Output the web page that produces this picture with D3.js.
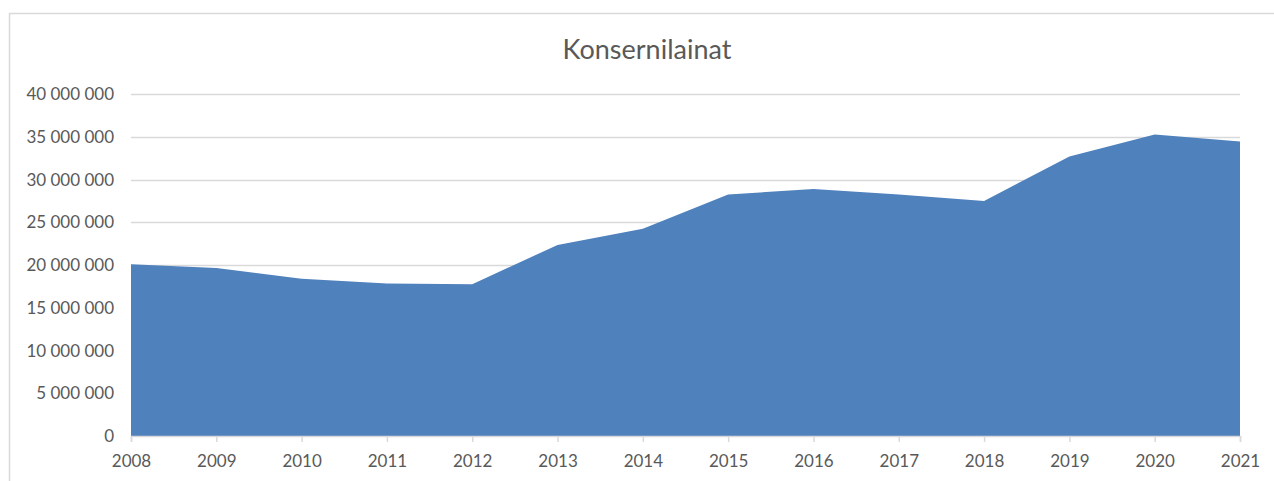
<!DOCTYPE html>
<html>
<head>
<meta charset="utf-8">
<script src="https://cdn.jsdelivr.net/npm/d3@7"></script>
<style>
  body { margin: 0; background: #fff; }
  svg text { font-family: Lato, "Open Sans", sans-serif; fill: #595959; }
</style>
</head>
<body>
<div id="chart"></div>
<script>
var years = [2008, 2009, 2010, 2011, 2012, 2013, 2014, 2015, 2016, 2017, 2018, 2019, 2020, 2021];
var loans = [20100000, 19650000, 18400000, 17850000, 17750000, 22350000, 24250000, 28250000, 28900000, 28250000, 27500000, 32700000, 35250000, 34450000];
var yTicks = [0, 5000000, 10000000, 15000000, 20000000, 25000000, 30000000, 35000000, 40000000];

var width = 1274, height = 481;
var margin = {top: 94, right: 34, bottom: 45, left: 131};

var svg = d3.select("#chart").append("svg")
  .attr("width", width)
  .attr("height", height);

// chart frame
svg.append("rect")
  .attr("x", 9.5).attr("y", 13.5)
  .attr("width", width + 20).attr("height", height + 20)
  .attr("fill", "none")
  .attr("stroke", "#d9d9d9")
  .attr("stroke-width", 1.5);

svg.append("text")
  .attr("x", 647).attr("y", 59)
  .attr("text-anchor", "middle")
  .style("font-size", "27px")
  .text("Konsernilainat");

var x = d3.scaleLinear()
  .domain([2008, 2021])
  .range([margin.left, width - margin.right]);

var y = d3.scaleLinear()
  .domain([0, 40000000])
  .range([height - margin.bottom, margin.top]);

var fmt = function(v){ return d3.format(",")(v).replace(/,/g, " "); };

// gridlines
svg.append("g")
  .selectAll("line")
  .data(yTicks.slice(1))
  .enter().append("line")
  .attr("x1", x(2008)).attr("x2", x(2021))
  .attr("y1", function(d){ return Math.round(y(d)) + 0.5; })
  .attr("y2", function(d){ return Math.round(y(d)) + 0.5; })
  .attr("stroke", "#d9d9d9")
  .attr("stroke-width", 1.5);

var data = years.map(function(yr, i){ return {year: yr, value: loans[i]}; });

var area = d3.area()
  .x(function(d){ return x(d.year); })
  .y0(y(0))
  .y1(function(d){ return y(d.value); });

svg.append("path")
  .datum(data)
  .attr("d", area)
  .attr("fill", "#4f81bd");

// y axis labels
svg.append("g")
  .selectAll("text")
  .data(yTicks)
  .enter().append("text")
  .attr("x", 114)
  .attr("y", function(d){ return y(d) + 6; })
  .attr("text-anchor", "end")
  .style("font-size", "17px")
  .text(fmt);

// x axis
var xAxis = d3.axisBottom(x)
  .tickValues(years)
  .tickFormat(d3.format("d"))
  .tickSize(6)
  .tickPadding(13);

var gx = svg.append("g")
  .attr("transform", "translate(0," + y(0) + ")")
  .call(xAxis);
gx.select(".domain").attr("stroke", "#d9d9d9").attr("stroke-width", 1.5);
gx.selectAll(".tick line").attr("stroke", "#d9d9d9").attr("stroke-width", 1.5);
gx.selectAll(".tick text")
  .style("font-size", "17px")
  .style("font-family", "Lato, 'Open Sans', sans-serif")
  .attr("fill", "#595959");
</script>
</body>
</html>
